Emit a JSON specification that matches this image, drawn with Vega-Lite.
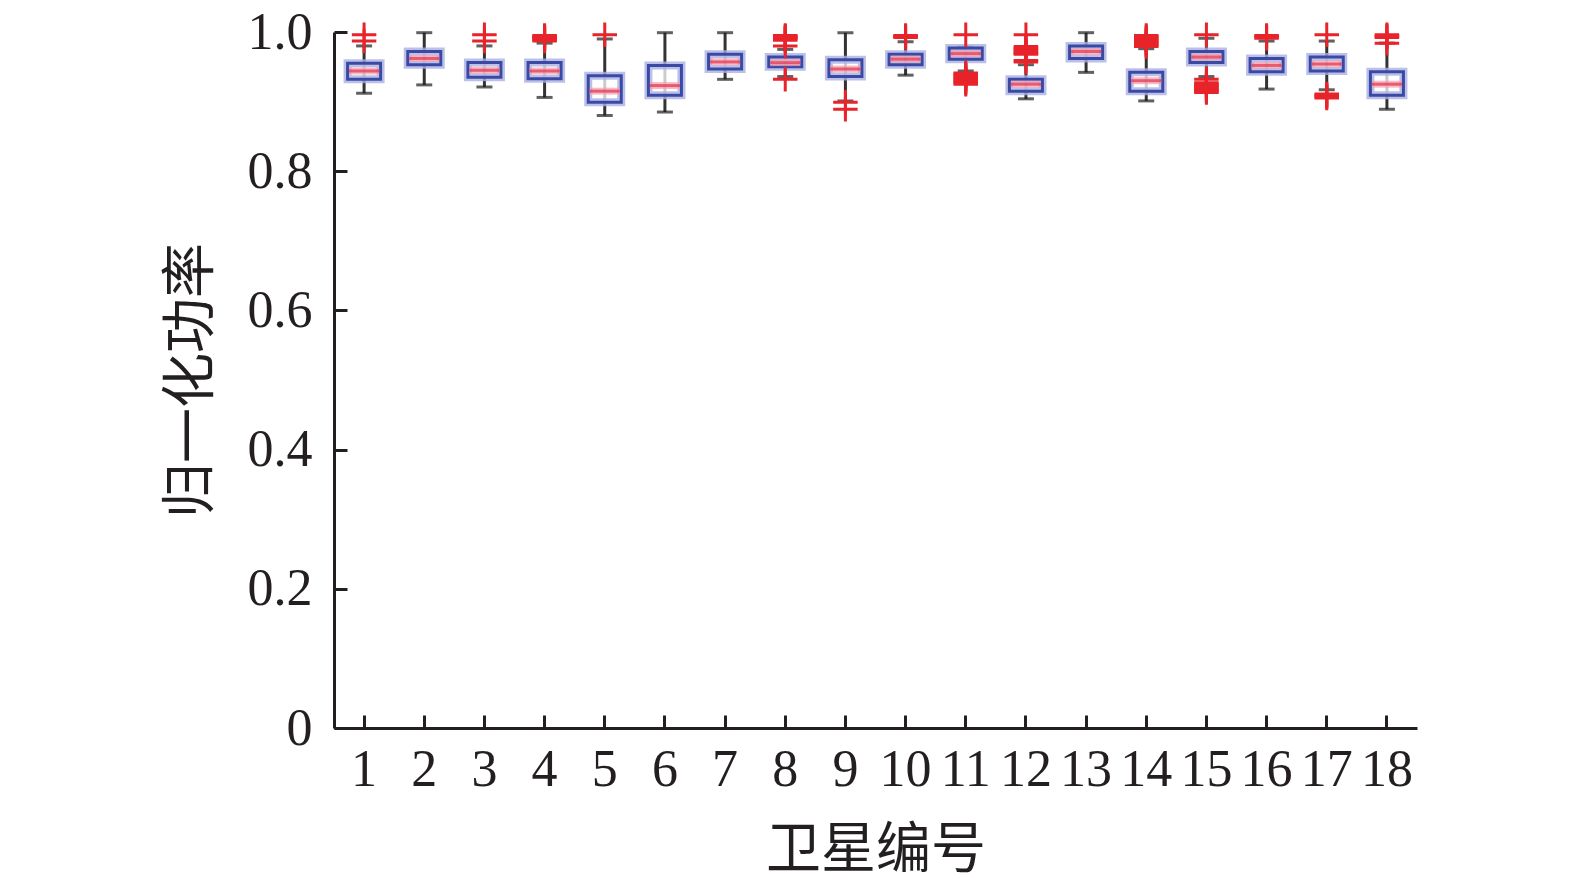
{
  "$schema": "https://vega.github.io/schema/vega-lite/v6.json",
  "width": 1083,
  "height": 696,
  "autosize": "none",
  "padding": {"left": 334, "top": 32, "right": 158, "bottom": 157},
  "background": "white",
  "datasets": {
    "boxes": [
      {"sat": 1, "lo": 0.912, "q1": 0.932, "med": 0.944, "q3": 0.955, "hi": 0.980},
      {"sat": 2, "lo": 0.924, "q1": 0.953, "med": 0.962, "q3": 0.972, "hi": 0.999},
      {"sat": 3, "lo": 0.921, "q1": 0.935, "med": 0.945, "q3": 0.956, "hi": 0.980},
      {"sat": 4, "lo": 0.906, "q1": 0.933, "med": 0.944, "q3": 0.956, "hi": 0.984},
      {"sat": 5, "lo": 0.880, "q1": 0.899, "med": 0.915, "q3": 0.937, "hi": 0.990},
      {"sat": 6, "lo": 0.885, "q1": 0.909, "med": 0.923, "q3": 0.952, "hi": 0.999},
      {"sat": 7, "lo": 0.932, "q1": 0.947, "med": 0.957, "q3": 0.968, "hi": 0.999},
      {"sat": 8, "lo": 0.936, "q1": 0.950, "med": 0.956, "q3": 0.964, "hi": 0.975},
      {"sat": 9, "lo": 0.901, "q1": 0.936, "med": 0.947, "q3": 0.960, "hi": 0.999},
      {"sat": 10, "lo": 0.938, "q1": 0.953, "med": 0.961, "q3": 0.968, "hi": 0.986},
      {"sat": 11, "lo": 0.944, "q1": 0.961, "med": 0.969, "q3": 0.977, "hi": 0.978},
      {"sat": 12, "lo": 0.904, "q1": 0.915, "med": 0.925, "q3": 0.932, "hi": 0.953},
      {"sat": 13, "lo": 0.942, "q1": 0.962, "med": 0.972, "q3": 0.980, "hi": 0.999},
      {"sat": 14, "lo": 0.901, "q1": 0.915, "med": 0.930, "q3": 0.942, "hi": 0.976},
      {"sat": 15, "lo": 0.936, "q1": 0.956, "med": 0.964, "q3": 0.972, "hi": 0.991},
      {"sat": 16, "lo": 0.918, "q1": 0.943, "med": 0.952, "q3": 0.962, "hi": 0.987},
      {"sat": 17, "lo": 0.917, "q1": 0.944, "med": 0.954, "q3": 0.964, "hi": 0.987},
      {"sat": 18, "lo": 0.889, "q1": 0.909, "med": 0.925, "q3": 0.943, "hi": 0.984}
    ],
    "outliers": [
      {"sat": 1, "v": 0.996}, {"sat": 1, "v": 0.987},
      {"sat": 3, "v": 0.996}, {"sat": 3, "v": 0.987},
      {"sat": 4, "v": 0.995}, {"sat": 4, "v": 0.9935}, {"sat": 4, "v": 0.992}, {"sat": 4, "v": 0.9905}, {"sat": 4, "v": 0.989}, {"sat": 4, "v": 0.987},
      {"sat": 5, "v": 0.996},
      {"sat": 8, "v": 0.995}, {"sat": 8, "v": 0.9935}, {"sat": 8, "v": 0.992}, {"sat": 8, "v": 0.9905}, {"sat": 8, "v": 0.988}, {"sat": 8, "v": 0.980}, {"sat": 8, "v": 0.932},
      {"sat": 9, "v": 0.899}, {"sat": 9, "v": 0.889},
      {"sat": 10, "v": 0.995}, {"sat": 10, "v": 0.9935}, {"sat": 10, "v": 0.992},
      {"sat": 11, "v": 0.996}, {"sat": 11, "v": 0.941}, {"sat": 11, "v": 0.939}, {"sat": 11, "v": 0.937}, {"sat": 11, "v": 0.935}, {"sat": 11, "v": 0.933}, {"sat": 11, "v": 0.931}, {"sat": 11, "v": 0.929}, {"sat": 11, "v": 0.927}, {"sat": 11, "v": 0.925},
      {"sat": 12, "v": 0.996}, {"sat": 12, "v": 0.979}, {"sat": 12, "v": 0.977}, {"sat": 12, "v": 0.975}, {"sat": 12, "v": 0.973}, {"sat": 12, "v": 0.971}, {"sat": 12, "v": 0.969}, {"sat": 12, "v": 0.968}, {"sat": 12, "v": 0.959}, {"sat": 12, "v": 0.957},
      {"sat": 14, "v": 0.995}, {"sat": 14, "v": 0.993}, {"sat": 14, "v": 0.991}, {"sat": 14, "v": 0.989}, {"sat": 14, "v": 0.987}, {"sat": 14, "v": 0.985}, {"sat": 14, "v": 0.983}, {"sat": 14, "v": 0.981}, {"sat": 14, "v": 0.979},
      {"sat": 15, "v": 0.996}, {"sat": 15, "v": 0.932}, {"sat": 15, "v": 0.927}, {"sat": 15, "v": 0.925}, {"sat": 15, "v": 0.923}, {"sat": 15, "v": 0.921}, {"sat": 15, "v": 0.919}, {"sat": 15, "v": 0.917}, {"sat": 15, "v": 0.915}, {"sat": 15, "v": 0.913},
      {"sat": 16, "v": 0.995}, {"sat": 16, "v": 0.993}, {"sat": 16, "v": 0.991},
      {"sat": 17, "v": 0.996}, {"sat": 17, "v": 0.911}, {"sat": 17, "v": 0.909}, {"sat": 17, "v": 0.907}, {"sat": 17, "v": 0.905},
      {"sat": 18, "v": 0.996}, {"sat": 18, "v": 0.994}, {"sat": 18, "v": 0.992}, {"sat": 18, "v": 0.984}
    ]
  },
  "encoding": {
    "x": {
      "field": "sat",
      "type": "ordinal",
      "scale": {"paddingInner": 0, "paddingOuter": 0},
      "axis": {
        "title": "卫星编号",
        "labelAngle": 0,
        "labelFont": "Liberation Serif",
        "labelFontSize": 52,
        "labelColor": "#231f20",
        "labelPadding": 29,
        "tickSize": -13,
        "tickWidth": 3,
        "tickColor": "#231f20",
        "domainWidth": 3,
        "domainColor": "#231f20",
        "titleFont": "Noto Sans CJK SC",
        "titleFontSize": 55,
        "titleFontWeight": "normal",
        "titleColor": "#231f20",
        "titlePadding": 28
      }
    }
  },
  "layer": [
    {
      "data": {"name": "boxes"},
      "mark": {"type": "rule", "color": "#333333", "strokeWidth": 3},
      "encoding": {
        "y": {
          "field": "lo",
          "type": "quantitative",
          "scale": {"domain": [0, 1], "nice": false},
          "axis": {
            "title": "归一化功率",
            "values": [0, 0.2, 0.4, 0.6, 0.8, 1.0],
            "labelExpr": "datum.value == 0 ? '0' : format(datum.value, '.1f')",
            "grid": false,
            "labelFont": "Liberation Serif",
            "labelFontSize": 52,
            "labelColor": "#231f20",
            "labelPadding": 35,
            "tickSize": -13,
            "tickWidth": 3,
            "tickColor": "#231f20",
            "domainWidth": 3,
            "domainColor": "#231f20",
            "titleFont": "Noto Sans CJK SC",
            "titleFontSize": 55,
            "titleFontWeight": "normal",
            "titleColor": "#231f20",
            "titlePadding": 28
          }
        },
        "y2": {"field": "hi"}
      }
    },
    {
      "data": {"name": "boxes"},
      "mark": {"type": "tick", "color": "#1e1e1e", "size": 16, "thickness": 3},
      "encoding": {"y": {"field": "lo", "type": "quantitative"}}
    },
    {
      "data": {"name": "boxes"},
      "mark": {"type": "tick", "color": "#1e1e1e", "size": 16, "thickness": 3},
      "encoding": {"y": {"field": "hi", "type": "quantitative"}}
    },
    {
      "data": {"name": "boxes"},
      "mark": {"type": "bar", "size": 33, "fill": "white", "fillOpacity": 0.75, "stroke": "#aab0e4", "strokeWidth": 8, "strokeOpacity": 0.8},
      "encoding": {"y": {"field": "q1", "type": "quantitative"}, "y2": {"field": "q3"}}
    },
    {
      "data": {"name": "boxes"},
      "mark": {"type": "bar", "size": 33, "fill": "white", "fillOpacity": 0, "stroke": "#3a4aa4", "strokeWidth": 3},
      "encoding": {"y": {"field": "q1", "type": "quantitative"}, "y2": {"field": "q3"}}
    },
    {
      "data": {"name": "boxes"},
      "mark": {"type": "tick", "color": "#f3a0b0", "size": 30, "thickness": 7, "opacity": 0.7},
      "encoding": {"y": {"field": "med", "type": "quantitative"}}
    },
    {
      "data": {"name": "boxes"},
      "mark": {"type": "tick", "color": "#e3324a", "size": 30, "thickness": 3},
      "encoding": {"y": {"field": "med", "type": "quantitative"}}
    },
    {
      "data": {"name": "outliers"},
      "mark": {"type": "point", "shape": "M-1,0H1M0,-1V1", "filled": false, "stroke": "#e8232a", "strokeWidth": 3, "size": 600, "opacity": 1},
      "encoding": {"y": {"field": "v", "type": "quantitative"}}
    }
  ],
  "config": {
    "view": {"stroke": null},
    "axis": {"labelFlush": false, "labelOverlap": false}
  }
}
